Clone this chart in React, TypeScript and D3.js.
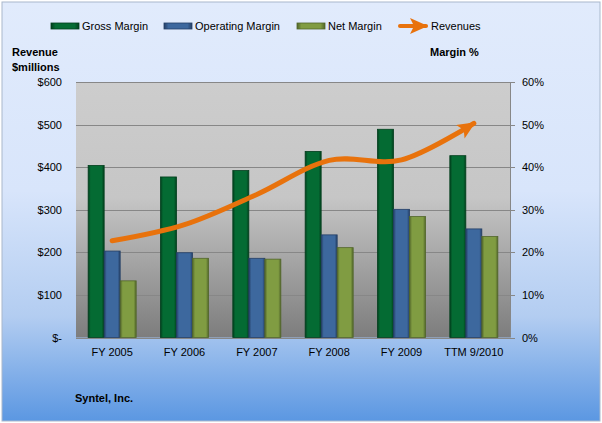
import React, { useEffect, useRef } from 'react';
import * as d3 from 'd3';

const categories = ['FY 2005', 'FY 2006', 'FY 2007', 'FY 2008', 'FY 2009', 'TTM 9/2010'];
const grossMargin = [40.4, 37.7, 39.2, 43.7, 48.9, 42.7];
const operatingMargin = [20.3, 19.9, 18.6, 24.1, 30.1, 25.5];
const netMargin = [13.3, 18.6, 18.4, 21.1, 28.4, 23.7];
const revenues = [227, 265, 336, 416, 417, 503];
const revenueTicks = [0, 100, 200, 300, 400, 500, 600];
const marginTicks = [0, 10, 20, 30, 40, 50, 60];

const seriesNames = ['Gross Margin', 'Operating Margin', 'Net Margin'];
const seriesColors = [
  { main: '#046b33', edge: '#023f1d' },
  { main: '#3d689e', edge: '#243f66' },
  { main: '#809c42', edge: '#52662a' },
];

const FONT = '"Liberation Sans", Arial, sans-serif';
const FS = 11;

const App = () => {
  const ref = useRef<SVGSVGElement>(null);

  useEffect(() => {
    const svg = d3.select(ref.current);
    svg.selectAll('*').remove();

    const W = 602, H = 423;
    const plot = { left: 76, right: 510, top: 82, bottom: 337.5 };

    const defs = svg.append('defs');

    // chart area background
    const bg = defs.append('linearGradient').attr('id', 'bg').attr('x1', 0).attr('y1', 0).attr('x2', 0).attr('y2', 1);
    bg.append('stop').attr('offset', '0%').attr('stop-color', '#e1ebfc');
    bg.append('stop').attr('offset', '45%').attr('stop-color', '#d8e5fb');
    bg.append('stop').attr('offset', '75%').attr('stop-color', '#b3cdf1');
    bg.append('stop').attr('offset', '100%').attr('stop-color', '#5b97e2');

    // plot area background
    const pg = defs.append('linearGradient').attr('id', 'pg').attr('x1', 0).attr('y1', 0).attr('x2', 0).attr('y2', 1);
    pg.append('stop').attr('offset', '0%').attr('stop-color', '#cdcdcd');
    pg.append('stop').attr('offset', '45%').attr('stop-color', '#c6c6c6');
    pg.append('stop').attr('offset', '100%').attr('stop-color', '#7d7d7d');

    seriesColors.forEach((c, i) => {
      const g = defs.append('linearGradient').attr('id', `bar${i}`).attr('x1', 0).attr('y1', 0).attr('x2', 1).attr('y2', 0);
      g.append('stop').attr('offset', '0%').attr('stop-color', c.edge);
      g.append('stop').attr('offset', '16%').attr('stop-color', c.main);
      g.append('stop').attr('offset', '84%').attr('stop-color', c.main);
      g.append('stop').attr('offset', '100%').attr('stop-color', c.edge);
    });

    defs.append('marker')
      .attr('id', 'arrow')
      .attr('markerUnits', 'userSpaceOnUse')
      .attr('markerWidth', 20).attr('markerHeight', 16)
      .attr('refX', 16).attr('refY', 8)
      .attr('orient', 'auto')
      .append('path')
      .attr('d', 'M0,0 L18,8 L0,16 L4,8 Z')
      .attr('fill', '#e8720c');

    svg.append('rect')
      .attr('x', 2).attr('y', 2).attr('width', W - 4).attr('height', H - 4)
      .attr('fill', 'url(#bg)')
      .attr('stroke', '#a9b8cc').attr('stroke-width', 1);

    const x = d3.scaleBand<string>().domain(categories).range([plot.left, plot.right]).padding(0);
    const groupW = x.bandwidth() * 0.664;
    const xs = d3.scaleBand<number>().domain([0, 1, 2]).range([0, groupW]).padding(0);
    const yRev = d3.scaleLinear().domain([0, 600]).range([plot.bottom, plot.top]);
    const yPct = d3.scaleLinear().domain([0, 60]).range([plot.bottom, plot.top]);

    svg.append('rect')
      .attr('x', plot.left).attr('y', plot.top)
      .attr('width', plot.right - plot.left).attr('height', plot.bottom - plot.top)
      .attr('fill', 'url(#pg)');

    // gridlines
    svg.append('g').selectAll('line').data(revenueTicks).join('line')
      .attr('x1', plot.left).attr('x2', plot.right)
      .attr('y1', d => Math.round(yRev(d)) + 0.5).attr('y2', d => Math.round(yRev(d)) + 0.5)
      .attr('stroke', '#878787').attr('stroke-width', 1);

    // right axis line + ticks
    svg.append('line')
      .attr('x1', plot.right + 0.5).attr('x2', plot.right + 0.5)
      .attr('y1', plot.top).attr('y2', plot.bottom)
      .attr('stroke', '#878787');
    svg.append('g').selectAll('line').data(marginTicks).join('line')
      .attr('x1', plot.right).attr('x2', plot.right + 5)
      .attr('y1', d => Math.round(yPct(d)) + 0.5).attr('y2', d => Math.round(yPct(d)) + 0.5)
      .attr('stroke', '#878787');

    // bars
    const series = [grossMargin, operatingMargin, netMargin];
    series.forEach((vals, si) => {
      svg.append('g').selectAll('rect').data(vals).join('rect')
        .attr('x', (d, i) => x(categories[i])! + (x.bandwidth() - groupW) / 2 + xs(si)!)
        .attr('y', d => yPct(d))
        .attr('width', xs.bandwidth())
        .attr('height', d => plot.bottom - yPct(d))
        .attr('fill', `url(#bar${si})`)
        .attr('stroke', seriesColors[si].edge)
        .attr('stroke-width', 0.8);
    });

    // revenue line
    const line = d3.line<number>()
      .x((d, i) => x(categories[i])! + x.bandwidth() / 2)
      .y(d => yRev(d))
      .curve(d3.curveCatmullRom.alpha(0));
    svg.append('path')
      .attr('d', line(revenues))
      .attr('fill', 'none')
      .attr('stroke', '#e8720c')
      .attr('stroke-width', 5)
      .attr('stroke-linecap', 'round')
      .attr('marker-end', 'url(#arrow)');

    const txt = (sel: any) => sel.attr('font-family', FONT).attr('fill', '#000');

    // left tick labels
    svg.append('g').selectAll('text').data(revenueTicks).join('text')
      .call(txt)
      .attr('x', 62).attr('y', d => yRev(d) + 4)
      .attr('text-anchor', 'end').attr('font-size', FS)
      .text(d => (d === 0 ? '$-' : `$${d}`));

    // right tick labels
    svg.append('g').selectAll('text').data(marginTicks).join('text')
      .call(txt)
      .attr('x', 522).attr('y', d => yPct(d) + 4)
      .attr('font-size', FS)
      .text(d => `${d}%`);

    // category labels
    svg.append('g').selectAll('text').data(categories).join('text')
      .call(txt)
      .attr('x', d => x(d)! + x.bandwidth() / 2).attr('y', 356)
      .attr('text-anchor', 'middle').attr('font-size', FS)
      .text(d => d);

    // axis titles
    svg.append('text').call(txt).attr('x', 12).attr('y', 56).attr('font-size', FS).attr('font-weight', 'bold').text('Revenue');
    svg.append('text').call(txt).attr('x', 12).attr('y', 71).attr('font-size', FS).attr('font-weight', 'bold').text('$millions');
    svg.append('text').call(txt).attr('x', 430).attr('y', 56).attr('font-size', FS).attr('font-weight', 'bold').text('Margin %');
    svg.append('text').call(txt).attr('x', 75).attr('y', 402).attr('font-size', FS).attr('font-weight', 'bold').text('Syntel, Inc.');

    // legend
    const legendX = [51, 164, 297];
    seriesNames.forEach((name, i) => {
      svg.append('rect')
        .attr('x', legendX[i]).attr('y', 23).attr('width', 28).attr('height', 6)
        .attr('fill', `url(#bar${i})`)
        .attr('stroke', seriesColors[i].edge).attr('stroke-width', 0.8);
      svg.append('text').call(txt)
        .attr('x', legendX[i] + 31).attr('y', 30).attr('font-size', FS)
        .text(name);
    });
    svg.append('line')
      .attr('x1', 400).attr('x2', 426).attr('y1', 26).attr('y2', 26)
      .attr('stroke', '#e8720c').attr('stroke-width', 4)
      .attr('stroke-linecap', 'round')
      .attr('marker-end', 'url(#arrow)');
    svg.append('text').call(txt).attr('x', 431).attr('y', 30).attr('font-size', FS).text('Revenues');
  }, []);

  return (
    <svg ref={ref} width={602} height={423} style={{ position: 'absolute', left: 0, top: 0, display: 'block' }} />
  );
};

export default App;
